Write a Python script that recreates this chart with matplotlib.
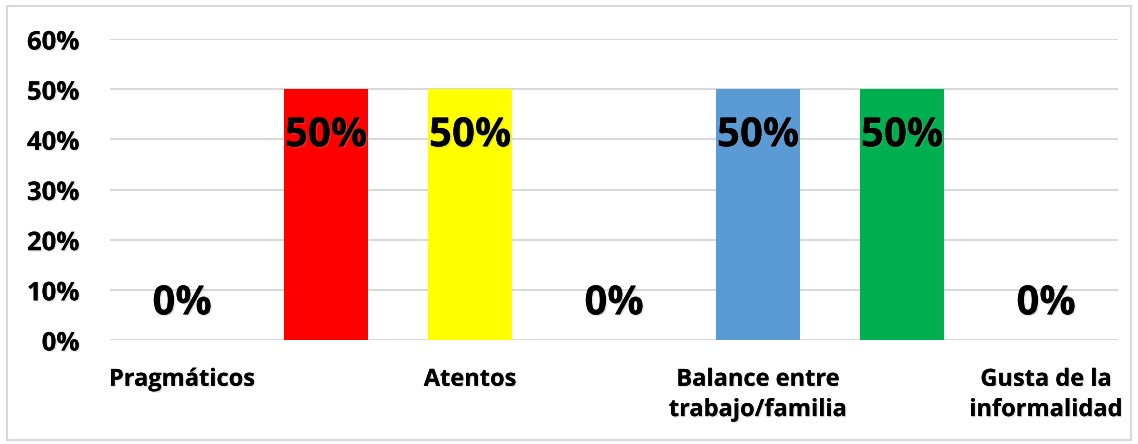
import matplotlib
matplotlib.use("Agg")
import matplotlib.pyplot as plt
import matplotlib.patheffects as pe
from matplotlib.patches import Rectangle
from matplotlib.ticker import PercentFormatter

# categories (only every other label is shown in the original chart)
categories = ["Pragmáticos", "", "Atentos", "", "Balance entre\ntrabajo/familia", "", "Gusta de la\ninformalidad"]
values = [0.0, 0.5, 0.5, 0.0, 0.5, 0.5, 0.0]
colors = ["#A5A5A5", "#FF0000", "#FFFF00", "#ED7D31", "#5B9BD5", "#00B050", "#7030A0"]
yticks = [0, 0.1, 0.2, 0.3, 0.4, 0.5, 0.6]

plt.rcParams["font.family"] = ["Open Sans", "DejaVu Sans"]
plt.rcParams["font.weight"] = "bold"

def soft_shadow(alpha):
    return [pe.withSimplePatchShadow(offset=(1, -1), shadow_rgbFace="#999999", alpha=alpha), pe.Normal()]

fig = plt.figure(figsize=(11.38, 4.44), dpi=100)
ax = fig.add_axes([110 / 1138, 1 - 340 / 444, 1008 / 1138, 301 / 444])

x = list(range(len(categories)))
ax.bar(x, values, width=0.58, color=colors, zorder=3)

for xi, v in zip(x, values):
    ypos = v - 0.093 if v > 0 else 0.072
    t = ax.text(xi, ypos, f"{v:.0%}", ha="center", va="center",
                fontsize=29, fontweight="bold", color="black", zorder=4)
    t.set_path_effects(soft_shadow(0.3))

ax.set_xlim(-0.5, len(categories) - 0.5)
ax.set_ylim(0, 0.6)
ax.set_yticks(yticks)
ax.yaxis.set_major_formatter(PercentFormatter(1.0, decimals=0))
ax.set_xticks(x)
ax.set_xticklabels(categories, linespacing=1.35)
ax.tick_params(axis="both", length=0)
ax.tick_params(axis="y", pad=22, labelsize=18.5)
ax.tick_params(axis="x", pad=20, labelsize=17)
for lab in ax.get_xticklabels() + ax.get_yticklabels():
    lab.set_fontweight("bold")
    lab.set_path_effects(soft_shadow(0.25))

ax.grid(axis="y", color="#D9D9D9", linewidth=1.5, zorder=0)
ax.set_axisbelow(True)
for s in ax.spines.values():
    s.set_visible(False)

fig.patches.append(Rectangle((7 / 1138, 1 - 440 / 444), 1124 / 1138, 434 / 444,
                             transform=fig.transFigure, fill=False,
                             edgecolor="#D9D9D9", linewidth=1.5))

fig.savefig("out.png", dpi=100)
